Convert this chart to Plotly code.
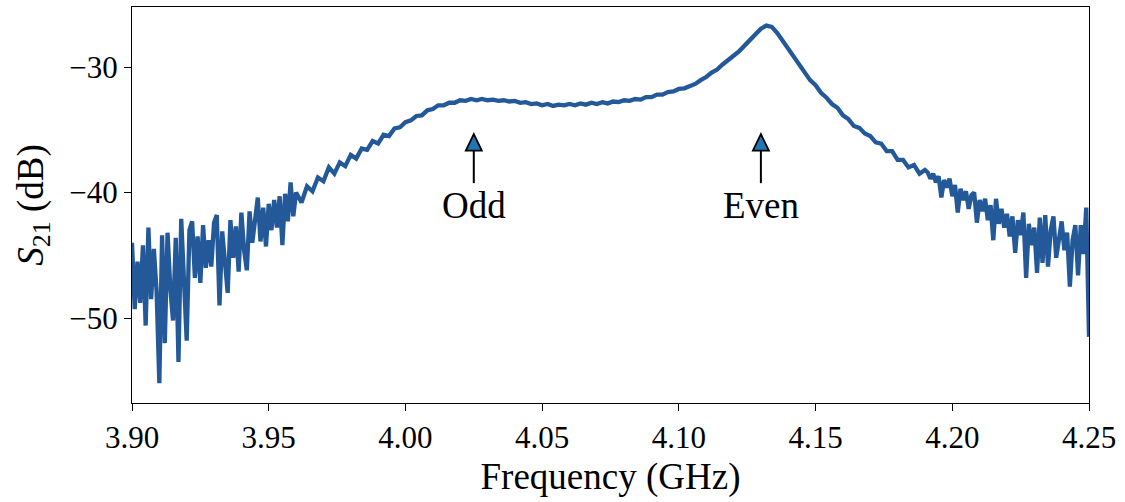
import numpy as np
import plotly.graph_objects as go

# ---- data ----
# Segment A: 3.900 .. 3.960 GHz, step 1 MHz (noisy low-frequency tail)
seg_a_start, seg_a_step = 3.900, 0.001
seg_a_db = [
    -44.0, -49.3, -45.5, -48.8, -44.2, -50.6, -42.8, -48.5, -44.5, -47.9,
    -55.2, -43.4, -52.0, -43.2, -47.6, -50.2, -43.6, -53.5, -42.1, -47.0,
    -51.8, -43.0, -42.3, -46.8, -43.5, -47.2, -42.6, -46.0, -43.8, -45.9,
    -42.4, -41.8, -49.0, -43.1, -45.5, -48.0, -42.2, -45.2, -42.7, -46.3,
    -41.6, -44.6, -46.2, -41.5, -44.0, -41.8, -40.4, -43.9, -41.2, -44.3,
    -40.9, -43.0, -40.6, -42.8, -40.3, -44.2, -40.1, -42.3, -39.2, -41.9,
    -40.0,
]
# Segment B: 3.962 .. 4.190 GHz, step 2 MHz (odd / even modes)
seg_b_start, seg_b_step = 3.962, 0.002
seg_b_db = [
    -40.8, -39.5, -39.9, -38.8, -39.1, -38.0, -38.5, -37.6, -37.9, -37.0,
    -37.3, -36.5, -36.6, -35.9, -36.1, -35.4, -35.5, -34.9, -34.8, -34.4,
    -34.25, -33.9, -33.85, -33.45, -33.35, -33.05, -33.05, -32.85, -32.85, -32.65,
    -32.7, -32.55, -32.65, -32.55, -32.65, -32.6, -32.7, -32.65, -32.75, -32.7,
    -32.85, -32.8, -32.95, -32.9, -33.05, -32.95, -33.1, -33.0, -33.05, -32.95,
    -33.05, -32.9, -33.0, -32.85, -32.95, -32.8, -32.9, -32.75, -32.8, -32.65,
    -32.7, -32.55, -32.6, -32.4, -32.4, -32.2, -32.2, -32.0, -31.95, -31.75,
    -31.7, -31.5, -31.35, -31.05, -30.8, -30.45, -30.2, -29.8, -29.5, -29.1,
    -28.75, -28.3, -27.9, -27.35, -26.95, -26.7, -26.8, -27.3, -27.95, -28.55,
    -29.2, -29.9, -30.45, -31.05, -31.45, -32.05, -32.45, -32.95, -33.25, -33.85,
    -34.15, -34.7, -34.85, -35.3, -35.5, -36.0, -36.1, -36.7, -36.7, -37.4,
    -37.4, -38.0, -37.8, -38.5, -38.2,
]
# Segment C: 4.191 .. 4.250 GHz, step 1 MHz (noisy high-frequency tail)
seg_c_start, seg_c_step = 4.191, 0.001
seg_c_db = [
    -38.4, -38.9, -38.5, -39.2, -38.7, -40.4, -39.0, -39.6, -38.9, -40.3,
    -39.4, -41.6, -39.7, -40.6, -39.9, -41.3, -40.2, -40.0, -42.4, -40.6,
    -41.5, -40.5, -42.2, -41.0, -43.8, -40.5, -42.5, -41.3, -42.8, -41.7,
    -43.5, -41.9, -44.8, -42.2, -43.4, -41.6, -46.8, -42.5, -44.2, -42.8,
    -46.4, -42.0, -45.6, -41.8, -45.9, -43.0, -41.9, -45.2, -43.4, -42.3,
    -44.6, -43.2, -47.5, -43.8, -42.6, -46.6, -42.6, -44.9, -41.2, -51.5,
]

mode_labels = ["Odd", "Even"]
mode_freqs = [4.025, 4.130]
arrow_tip_db = -35.35
label_db = -41.0

x_ticks = [3.90, 3.95, 4.00, 4.05, 4.10, 4.15, 4.20, 4.25]
y_ticks = [-30, -40, -50]


def seg_freqs(start, step, vals):
    return list(start + step * np.arange(len(vals)))


freq = (seg_freqs(seg_a_start, seg_a_step, seg_a_db)
        + seg_freqs(seg_b_start, seg_b_step, seg_b_db)
        + seg_freqs(seg_c_start, seg_c_step, seg_c_db))
s21 = seg_a_db + seg_b_db + seg_c_db

FONT = "Liberation Serif"
LINE_COLOR = "rgb(35,89,153)"

fig = go.Figure()
fig.add_trace(go.Scatter(
    x=freq, y=s21, mode="lines",
    line=dict(color=LINE_COLOR, width=4.3),
    showlegend=False, hoverinfo="skip",
))

shapes = []
annotations = []
for lab, fx in zip(mode_labels, mode_freqs):
    # shaft
    shapes.append(dict(
        type="line", xref="x", yref="y",
        xsizemode="pixel", ysizemode="pixel",
        xanchor=fx, yanchor=arrow_tip_db,
        x0=0, x1=0, y0=-16, y1=-49,
        line=dict(color="black", width=2),
    ))
    # head
    shapes.append(dict(
        type="path", xref="x", yref="y",
        xsizemode="pixel", ysizemode="pixel",
        xanchor=fx, yanchor=arrow_tip_db,
        path="M0,0 L-8,-16.5 L8,-16.5 Z",
        fillcolor="#1f77b4",
        line=dict(color="black", width=1.8),
    ))
    annotations.append(dict(
        x=fx, y=label_db, xref="x", yref="y", text=lab,
        showarrow=False, xanchor="center", yanchor="middle",
        font=dict(family=FONT, size=37, color="black"),
    ))

fig.update_layout(
    width=1125, height=502,
    margin=dict(l=132, r=36, t=7, b=99),
    paper_bgcolor="white", plot_bgcolor="white",
    shapes=shapes, annotations=annotations,
    font=dict(family=FONT, color="black"),
    xaxis=dict(
        range=[3.90, 4.25], tickvals=x_ticks,
        ticktext=[f"{v:.2f}" for v in x_ticks],
        showgrid=False, zeroline=False,
        showline=True, linecolor="black", linewidth=1.3, mirror=True,
        ticks="outside", ticklen=7, tickwidth=1.3, tickcolor="black",
        tickfont=dict(family=FONT, size=31, color="black"),
        title=dict(text="Frequency (GHz)", standoff=8,
                   font=dict(family=FONT, size=37, color="black")),
    ),
    yaxis=dict(
        range=[-56.77, -25.22], tickvals=y_ticks,
        showgrid=False, zeroline=False,
        showline=True, linecolor="black", linewidth=1.3, mirror=True,
        ticks="outside", ticklen=7, tickwidth=1.3, tickcolor="black",
        tickfont=dict(family=FONT, size=31, color="black"),
        title=dict(text="<i>S</i><sub>21</sub> (dB)", standoff=14,
                   font=dict(family=FONT, size=37, color="black")),
    ),
)

fig.write_html("out.html")
